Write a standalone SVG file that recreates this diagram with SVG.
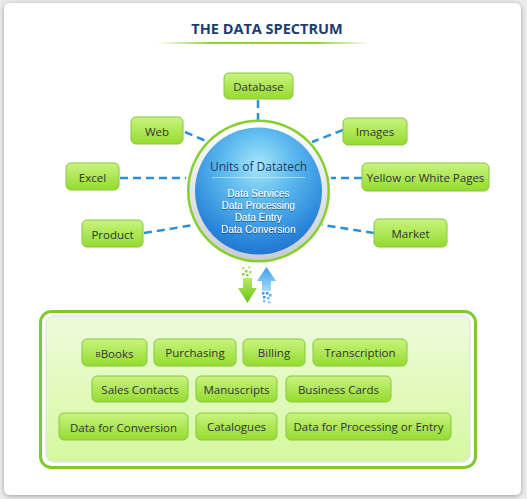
<svg xmlns="http://www.w3.org/2000/svg" width="527" height="499" viewBox="0 0 527 499">
<defs>
  <filter id="shadow" x="-5%" y="-5%" width="110%" height="110%">
    <feGaussianBlur in="SourceAlpha" stdDeviation="2.5"/>
    <feOffset dx="0" dy="1"/>
    <feComponentTransfer><feFuncA type="linear" slope="0.35"/></feComponentTransfer>
    <feMerge><feMergeNode/><feMergeNode in="SourceGraphic"/></feMerge>
  </filter>
  <filter id="tshadow" x="-10%" y="-30%" width="120%" height="160%">
    <feGaussianBlur in="SourceAlpha" stdDeviation="0.6"/>
    <feOffset dx="0" dy="0.6"/>
    <feComponentTransfer><feFuncA type="linear" slope="0.45"/></feComponentTransfer>
    <feMerge><feMergeNode/><feMergeNode in="SourceGraphic"/></feMerge>
  </filter>
  <linearGradient id="boxg" x1="0" y1="0" x2="0" y2="1">
    <stop offset="0" stop-color="#c9f37f"/>
    <stop offset="1" stop-color="#94db2e"/>
  </linearGradient>
  <linearGradient id="panelg" x1="0" y1="0" x2="0" y2="1">
    <stop offset="0" stop-color="#eefbdc"/>
    <stop offset="1" stop-color="#d5f89e"/>
  </linearGradient>
  <linearGradient id="ulg" x1="0" y1="0" x2="1" y2="0">
    <stop offset="0" stop-color="#8fd43a" stop-opacity="0"/>
    <stop offset="0.25" stop-color="#8fd43a"/>
    <stop offset="0.75" stop-color="#8fd43a"/>
    <stop offset="1" stop-color="#8fd43a" stop-opacity="0"/>
  </linearGradient>
  <radialGradient id="blueg" cx="0.5" cy="0.3" r="0.75" fx="0.5" fy="0.3">
    <stop offset="0" stop-color="#a8e6fb"/>
    <stop offset="0.35" stop-color="#5fbcef"/>
    <stop offset="0.8" stop-color="#2a86da"/>
    <stop offset="1" stop-color="#1f6fca"/>
  </radialGradient>
  <linearGradient id="ringg" x1="0" y1="0" x2="0" y2="1">
    <stop offset="0" stop-color="#ffffff"/>
    <stop offset="1" stop-color="#c9ccd2"/>
  </linearGradient>
  <linearGradient id="garr" x1="0" y1="0" x2="0" y2="1">
    <stop offset="0" stop-color="#b8ec5a"/>
    <stop offset="1" stop-color="#6cc21a"/>
  </linearGradient>
  <linearGradient id="barr" x1="0" y1="0" x2="0" y2="1">
    <stop offset="0" stop-color="#3e9ee8"/>
    <stop offset="1" stop-color="#a5dcfb"/>
  </linearGradient>
  <style>
    .box { fill: url(#boxg); stroke: #86c83c; stroke-width: 1; }
    .lbl { font-family: "Open Sans", "DejaVu Sans", sans-serif; font-size: 11.5px; fill: #333333; text-anchor: middle; dominant-baseline: central; }
    .conn { stroke: #2b90dc; stroke-width: 2.5; stroke-dasharray: 8 5; fill: none; }
    .wt { font-family: "Liberation Sans", Arial, sans-serif; font-size: 10px; fill: #ffffff; text-anchor: middle; }
    .gd { fill: #8fd43a; }
    .bd { fill: #3a9ae6; }
  </style>
</defs>

<rect x="0" y="0" width="527" height="499" fill="#ececec"/>
<rect x="4" y="3" width="517" height="492" rx="6" fill="#ffffff" filter="url(#shadow)"/>

<g id="title">
  <text x="267" y="34" font-family="'Open Sans', 'DejaVu Sans', sans-serif" font-size="14.5" font-weight="bold" fill="#1d3c6e" text-anchor="middle">THE DATA SPECTRUM</text>
  <rect x="157" y="42" width="213" height="2" fill="url(#ulg)"/>
</g>

<g id="connectors">
  <line class="conn" x1="258" y1="100" x2="258" y2="122"/>
  <line class="conn" x1="185" y1="132" x2="206" y2="141"/>
  <line class="conn" x1="120" y1="178" x2="186" y2="178"/>
  <line class="conn" x1="144" y1="233" x2="194" y2="225"/>
  <line class="conn" x1="343" y1="130" x2="312" y2="142"/>
  <line class="conn" x1="362" y1="178" x2="331" y2="178"/>
  <line class="conn" x1="374" y1="233" x2="322" y2="225"/>
</g>

<g id="center">
  <circle cx="258.5" cy="191" r="71.5" fill="#86cf2e"/>
  <circle cx="258.5" cy="191" r="69" fill="url(#ringg)"/>
  <circle cx="258.5" cy="191" r="63.5" fill="url(#blueg)"/>
  <text x="258.5" y="171" font-family="'Open Sans', 'DejaVu Sans', sans-serif" font-size="12" fill="#1c3a68" text-anchor="middle">Units of Datatech</text>
  <line x1="212" y1="177.5" x2="305" y2="177.5" stroke="#d8f2fc" stroke-width="0.8" opacity="0.8"/>
  <g filter="url(#tshadow)">
    <text class="wt" x="258.5" y="196.5">Data Services</text>
    <text class="wt" x="258.5" y="208.5">Data Processing</text>
    <text class="wt" x="258.5" y="220.5">Data Entry</text>
    <text class="wt" x="258.5" y="232.5">Data Conversion</text>
  </g>
</g>

<g id="n-database"><rect class="box" x="224" y="73" width="69" height="26" rx="5"/><text class="lbl" x="258.5" y="86.5">Database</text></g>
<g id="n-web"><rect class="box" x="131" y="117" width="52" height="27" rx="5"/><text class="lbl" x="157" y="131">Web</text></g>
<g id="n-excel"><rect class="box" x="66" y="163" width="53" height="27" rx="5"/><text class="lbl" x="92.5" y="177">Excel</text></g>
<g id="n-product"><rect class="box" x="82" y="220" width="61" height="27" rx="5"/><text class="lbl" x="112.5" y="234">Product</text></g>
<g id="n-images"><rect class="box" x="343" y="118" width="64" height="27" rx="5"/><text class="lbl" x="375" y="131.5">Images</text></g>
<g id="n-yellow"><rect class="box" x="362" y="163" width="127" height="28" rx="5"/><text class="lbl" x="425.5" y="177">Yellow or White Pages</text></g>
<g id="n-market"><rect class="box" x="374" y="219" width="73" height="28" rx="5"/><text class="lbl" x="410.5" y="233">Market</text></g>

<g id="arrows">
  <g id="arrow-down">
    <rect class="gd" x="242" y="267" width="2.5" height="2.5" opacity="0.6"/>
    <rect class="gd" x="248" y="266" width="2.5" height="2.5" opacity="0.5"/>
    <rect class="gd" x="245" y="270" width="2.5" height="2.5"/>
    <rect class="gd" x="249" y="271" width="2.5" height="2.5" opacity="0.8"/>
    <rect class="gd" x="242" y="273" width="2.5" height="2.5"/>
    <rect class="gd" x="246" y="274" width="2.5" height="2.5"/>
    <path d="M243,278 H252 V288 H257 L247.5,303 L238,288 H243 Z" fill="url(#garr)"/>
  </g>
  <g id="arrow-up">
    <path d="M266.5,267 L276,281 H271 V291 H262 V281 H257 Z" fill="url(#barr)"/>
    <rect class="bd" x="262" y="292" width="2.5" height="2.5"/>
    <rect class="bd" x="266" y="292" width="2.5" height="2.5"/>
    <rect class="bd" x="269" y="294" width="2.5" height="2.5" opacity="0.8"/>
    <rect class="bd" x="263" y="296" width="2.5" height="2.5"/>
    <rect class="bd" x="267" y="297" width="2.5" height="2.5" opacity="0.7"/>
    <rect class="bd" x="263" y="300" width="2.5" height="2.5" opacity="0.6"/>
    <rect class="bd" x="268" y="301" width="2.5" height="2.5" opacity="0.5"/>
  </g>
</g>

<g id="panel">
  <rect x="40.5" y="311.5" width="435" height="156" rx="11" fill="#ffffff" stroke="#7fc930" stroke-width="3"/>
  <rect x="46" y="316" width="424" height="146" rx="8" fill="url(#panelg)" stroke="#e4e6ea" stroke-width="1.5"/>
</g>

<g id="n-ebooks"><rect class="box" x="82" y="339" width="65" height="27" rx="5"/><text class="lbl" x="114.5" y="353"><tspan font-size="8">B</tspan>Books</text></g>
<g id="n-purchasing"><rect class="box" x="154" y="339" width="82" height="27" rx="5"/><text class="lbl" x="195" y="352.5">Purchasing</text></g>
<g id="n-billing"><rect class="box" x="243" y="339" width="62" height="27" rx="5"/><text class="lbl" x="274" y="352.5">Billing</text></g>
<g id="n-transcription"><rect class="box" x="313" y="339" width="94" height="27" rx="5"/><text class="lbl" x="360" y="352.5">Transcription</text></g>
<g id="n-sales"><rect class="box" x="92" y="376" width="96" height="26" rx="5"/><text class="lbl" x="140" y="389.5">Sales Contacts</text></g>
<g id="n-manuscripts"><rect class="box" x="196" y="376" width="81" height="26" rx="5"/><text class="lbl" x="236.5" y="389">Manuscripts</text></g>
<g id="n-business"><rect class="box" x="286" y="376" width="105" height="26" rx="5"/><text class="lbl" x="338.5" y="389">Business Cards</text></g>
<g id="n-conversion"><rect class="box" x="59" y="413" width="129" height="27" rx="5"/><text class="lbl" x="123.5" y="427">Data for Conversion</text></g>
<g id="n-catalogues"><rect class="box" x="196" y="413" width="81" height="27" rx="5"/><text class="lbl" x="236.5" y="426.5">Catalogues</text></g>
<g id="n-processing"><rect class="box" x="286" y="413" width="165" height="27" rx="5"/><text class="lbl" x="368.5" y="426.5">Data for Processing or Entry</text></g>
</svg>
